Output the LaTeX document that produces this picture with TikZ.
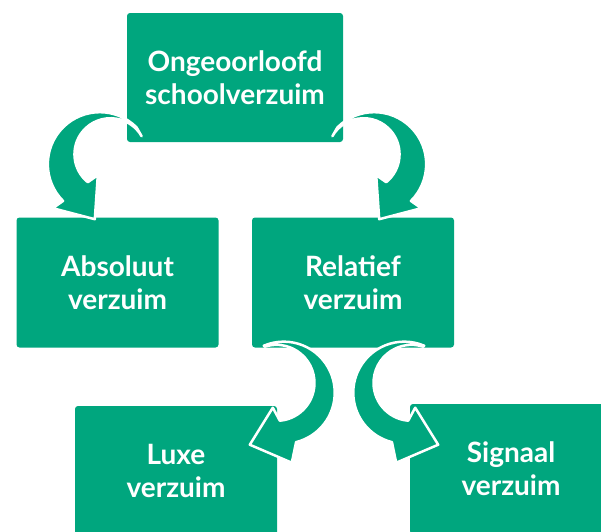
\documentclass[tikz,border=0pt]{standalone}
\usepackage{fontspec}
\setmainfont{Lato}
\usetikzlibrary{calc}
\definecolor{vgreen}{HTML}{00A67E}
\tikzset{
  vbox/.style={fill=vgreen, rounded corners=3pt, text=white, align=center, inner sep=0pt,
    minimum width=202pt, minimum height=130pt, font=\bfseries\fontsize{28}{33}\selectfont},
  bendarrow/.style={fill=vgreen, draw=white, line width=2.5pt, line join=round},
  topbend/.pic={\path[bendarrow] (0,0) arc[start angle=315,end angle=135,radius=52]
    -- (-83.8,80.8) -- (-41.8,91.8) -- (-38.8,47.8) -- (-48.8,54.8)
    arc[start angle=129,end angle=330,radius=36] -- cycle;},
  lowbend/.pic={\path[bendarrow] (0,0) arc[start angle=247,end angle=436,radius=51]
    -- (28,117) -- (-14,99) -- (9,62) -- (16,75)
    arc[start angle=85,end angle=-108,radius=38] -- cycle;}
}
\begin{document}
\begin{tikzpicture}[x=1pt,y=-1pt]
\useasboundingbox (0,0) rectangle (601,531);

\node[vbox, minimum width=216pt, minimum height=129pt] (top) at (235,77.5) {Ongeoorloofd\\schoolverzuim};
\node[vbox] (abs) at (117.5,282.5) {Absoluut\\verzuim};
\node[vbox] (rel) at (353,282.5) {Relatief\\verzuim};
\node[vbox] (luxe) at (176,471) {Luxe\\verzuim};
\node[vbox] (sig) at (511,469) {Signaal\\verzuim};

\pic at ($(top.south west)+(9.8,-14.8)$) {topbend};
\pic[xscale=-1] at ($(top.south east)+(-5.8,-14.8)$) {topbend};
\pic at ($(rel.south west)+(12,-2)$) {lowbend};
\pic[xscale=-1] at ($(rel.south east)+(-30,-2)$) {lowbend};
\end{tikzpicture}
\end{document}
